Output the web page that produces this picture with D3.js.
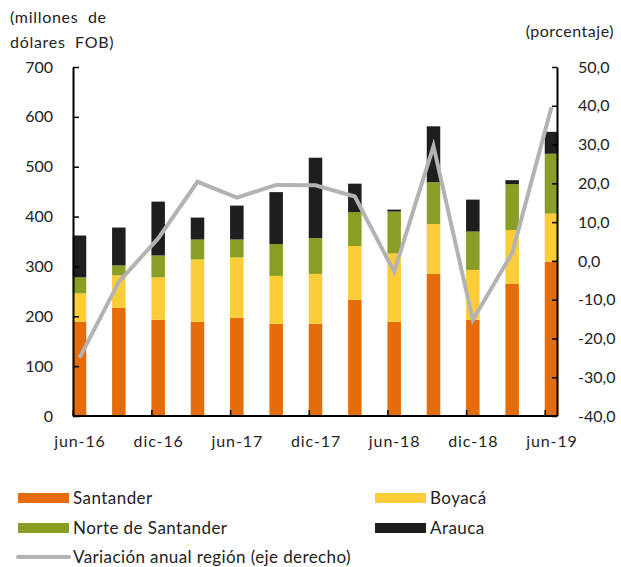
<!DOCTYPE html>
<html>
<head>
<meta charset="utf-8">
<script src="https://cdn.jsdelivr.net/npm/d3@7"></script>
<style>
  body { margin: 0; background: #fff; }
  svg { display: block; }
</style>
</head>
<body>
<svg id="chart"></svg>
<script>
// datos
const categories = ["jun-16", "sep-16", "dic-16", "mar-17", "jun-17", "sep-17", "dic-17",
                    "mar-18", "jun-18", "sep-18", "dic-18", "mar-19", "jun-19"];
const santander = [189, 217, 193, 189, 197, 185, 185, 233, 189, 285, 193, 265, 309];
const boyaca = [57, 65, 85, 125, 121, 96, 100, 108, 137, 100, 100, 108, 97];
const norte = [32, 20, 44, 40, 36, 64, 72, 68, 84, 84, 77, 92, 120];
const arauca = [84, 76, 108, 44, 68, 104, 161, 57, 4, 112, 64, 8, 44];
const variacion = [-25.0, -5.4, 5.8, 20.4, 16.3, 19.6, 19.5, 16.6, -2.8, 29.6, -15.2, 2.0, 39.7];
const leftTicks = [0, 100, 200, 300, 400, 500, 600, 700];
const rightTicks = [-40, -30, -20, -10, 0, 10, 20, 30, 40, 50];
const xLabels = ["jun-16", "dic-16", "jun-17", "dic-17", "jun-18", "dic-18", "jun-19"];

const seriesNames = ["Santander", "Boyacá", "Norte de Santander", "Arauca"];
const seriesData = [santander, boyaca, norte, arauca];
const colors = ["#e46c0a", "#fdcd37", "#889e24", "#1e1e1e"];
const lineColor = "#b3b3b3";
const textColor = "#222";
const fontFamily = "Lato, 'Open Sans', sans-serif";

const width = 621, height = 567;
const plot = { left: 73, right: 557, top: 67, bottom: 416 };
const barW = 13.5;

let svg = d3.select("#chart")
    .attr("width", width)
    .attr("height", height)
    .attr("font-family", fontFamily)

let x = d3.scalePoint()
    .domain(categories)
    .range([plot.left + 6.5, plot.right - 5.5])
let y = d3.scaleLinear()
    .domain([0, 700])
    .range([plot.bottom, plot.top])
let y2 = d3.scaleLinear()
    .domain([-40, 50])
    .range([plot.bottom, plot.top])

// tabla para apilar
let table = categories.map((c, i) => {
    let row = { cat: c };
    seriesNames.forEach((s, j) => row[s] = seriesData[j][i]);
    return row;
})
let stacked = d3.stack().keys(seriesNames)(table)

// barras
svg.append("g")
    .selectAll("g")
    .data(stacked)
    .join("g")
    .attr("fill", (d, i) => colors[i])
    .selectAll("rect")
    .data(d => d)
    .join("rect")
    .attr("x", d => x(d.data.cat) - barW / 2)
    .attr("width", barW)
    .attr("y", d => y(d[1]))
    .attr("height", d => y(d[0]) - y(d[1]))

// línea de variación anual
let line = d3.line()
    .x((d, i) => x(categories[i]))
    .y(d => y2(d))
svg.append("path")
    .datum(variacion)
    .attr("fill", "none")
    .attr("stroke", lineColor)
    .attr("stroke-width", 4)
    .attr("d", line)

// eje izquierdo
let gLeft = svg.append("g")
    .attr("transform", `translate(${plot.left},0)`)
    .call(d3.axisLeft(y).tickValues(leftTicks).tickSize(-6).tickPadding(20).tickSizeOuter(0))
gLeft.select(".domain").attr("stroke-width", 2)
gLeft.selectAll(".tick line").attr("stroke-width", 1.5)

// eje derecho
let fmt = v => v.toFixed(1).replace(".", ",")
let gRight = svg.append("g")
    .attr("transform", `translate(${plot.right},0)`)
    .call(d3.axisRight(y2).tickValues(rightTicks).tickFormat(fmt).tickSize(-5).tickPadding(21).tickSizeOuter(0))
gRight.select(".domain").attr("stroke-width", 2)
gRight.selectAll(".tick line").attr("stroke-width", 1.5)

// eje x
let gX = svg.append("g")
    .attr("transform", `translate(0,${plot.bottom})`)
    .call(d3.axisBottom(x).tickValues(xLabels).tickSize(-6).tickPadding(20).tickSizeOuter(0))
gX.select(".domain").remove()
gX.selectAll(".tick line")
    .attr("transform", `translate(${-barW / 2},0)`)
    .attr("stroke-width", 1.5)
gX.append("line")
    .attr("x1", plot.left)
    .attr("x2", plot.right)
    .attr("stroke", "#000")
    .attr("stroke-width", 2)

svg.selectAll(".tick text")
    .attr("font-size", 16)
    .attr("font-family", fontFamily)
    .attr("fill", textColor)
gX.selectAll(".tick text")
    .attr("letter-spacing", 0.9)

// títulos de ejes
svg.append("text")
    .attr("x", 10).attr("y", 23)
    .text("(millones  de")
    .attr("font-size", 16).attr("fill", textColor)
    .attr("letter-spacing", 0.7)
    .style("white-space", "pre")
svg.append("text")
    .attr("x", 10).attr("y", 48)
    .text("dólares  FOB)")
    .attr("font-size", 16).attr("fill", textColor)
    .attr("letter-spacing", 0.7)
    .style("white-space", "pre")
svg.append("text")
    .attr("x", 614).attr("y", 37)
    .attr("text-anchor", "end")
    .text("(porcentaje)")
    .attr("font-size", 16).attr("fill", textColor)
    .attr("letter-spacing", 0.5)

// leyenda
let legendItems = [
    { name: "Santander", color: colors[0], x: 18, y: 498 },
    { name: "Boyacá", color: colors[1], x: 375, y: 498 },
    { name: "Norte de Santander", color: colors[2], x: 18, y: 528 },
    { name: "Arauca", color: colors[3], x: 375, y: 528 },
]
let gLeg = svg.append("g")
legendItems.forEach(d => {
    gLeg.append("rect")
        .attr("x", d.x).attr("y", d.y - 5)
        .attr("width", 51).attr("height", 10)
        .attr("fill", d.color)
    gLeg.append("text")
        .attr("x", d.x + 55).attr("y", d.y + 6)
        .text(d.name)
        .attr("font-size", 17).attr("fill", textColor)
        .attr("letter-spacing", 0.45)
})
gLeg.append("line")
    .attr("x1", 18).attr("x2", 69)
    .attr("y1", 557).attr("y2", 557)
    .attr("stroke", lineColor)
    .attr("stroke-width", 4)
    .attr("stroke-linecap", "round")
gLeg.append("text")
    .attr("x", 73).attr("y", 563)
    .text("Variación anual región (eje derecho)")
    .attr("font-size", 17).attr("fill", textColor)
    .attr("letter-spacing", 0.4)
</script>
</body>
</html>
